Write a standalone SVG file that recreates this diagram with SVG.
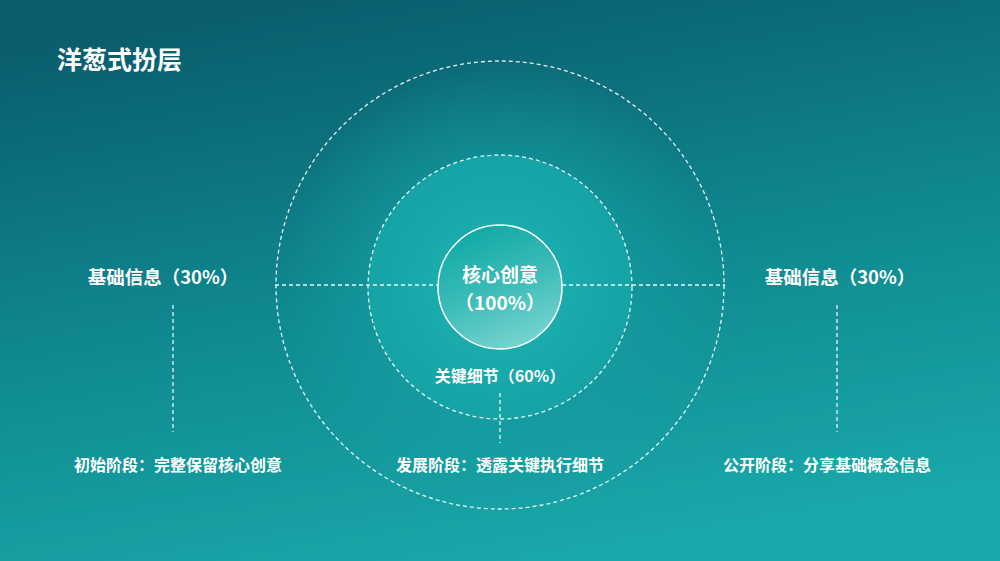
<svg xmlns="http://www.w3.org/2000/svg" width="1000" height="561" viewBox="0 0 1000 561">
<defs>
<linearGradient id="bg" x1="0.35" y1="0" x2="0.65" y2="1">
<stop offset="0" stop-color="#0a5e6e"/>
<stop offset="0.5" stop-color="#0f8990"/>
<stop offset="1" stop-color="#1aaaab"/>
</linearGradient>
<radialGradient id="mid" cx="0.5" cy="0.5" r="0.5">
<stop offset="0" stop-color="#1fb3b2"/>
<stop offset="1" stop-color="#15a3a6"/>
</radialGradient>
<linearGradient id="core" x1="0.3" y1="0" x2="0.7" y2="1">
<stop offset="0" stop-color="#0fa9a5"/>
<stop offset="0.5" stop-color="#3cbcb8"/>
<stop offset="1" stop-color="#7ad5d1"/>
</linearGradient>
<radialGradient id="outer" cx="0.5" cy="0.5" r="0.5">
<stop offset="0.5" stop-color="#16a0a4" stop-opacity="0.6"/>
<stop offset="1" stop-color="#16a0a4" stop-opacity="0"/>
</radialGradient>
</defs>
<style>
.dash{fill:none;stroke:#ffffff;stroke-width:1.3;stroke-dasharray:4 3;opacity:0.9}
.t{font-family:"Noto Sans CJK SC","Noto Sans",sans-serif;fill:#ffffff;font-weight:bold;text-anchor:middle}
</style>
<rect width="1000" height="561" fill="url(#bg)"/>
<text x="57" y="69" class="t" style="text-anchor:start;font-size:25px">洋葱式扮层</text>
<g id="outer-ring">
<circle cx="500" cy="285" r="224" fill="url(#outer)"/>
<circle cx="500" cy="285" r="224" class="dash"/>
</g>
<g id="middle-ring">
<circle cx="500" cy="287" r="132" fill="url(#mid)"/>
<circle cx="500" cy="287" r="132" class="dash"/>
<text x="500" y="382" class="t" style="font-size:16px">关键细节（60%）</text>
</g>
<g id="connectors">
<line x1="275" y1="285" x2="438" y2="285" class="dash"/>
<line x1="562" y1="285" x2="725" y2="285" class="dash"/>
<line x1="173" y1="305" x2="173" y2="432" class="dash"/>
<line x1="837" y1="305" x2="837" y2="432" class="dash"/>
<line x1="500" y1="393" x2="500" y2="443" class="dash"/>
</g>
<g id="core">
<circle cx="500" cy="287" r="62" fill="url(#core)" stroke="#ffffff" stroke-width="1.5"/>
<text x="500" y="282" class="t" style="font-size:19px">核心创意</text>
<text x="500" y="310" class="t" style="font-size:19px">（100%）</text>
</g>
<g id="left-label">
<text x="163" y="284" class="t" style="font-size:18.5px">基础信息（30%）</text>
</g>
<g id="right-label">
<text x="840" y="284" class="t" style="font-size:18.5px">基础信息（30%）</text>
</g>
<g id="stage-left">
<text x="178" y="471" class="t" style="font-size:16px">初始阶段：完整保留核心创意</text>
</g>
<g id="stage-mid">
<text x="500" y="471" class="t" style="font-size:16px">发展阶段：透露关键执行细节</text>
</g>
<g id="stage-right">
<text x="827" y="471" class="t" style="font-size:16px">公开阶段：分享基础概念信息</text>
</g>
</svg>
